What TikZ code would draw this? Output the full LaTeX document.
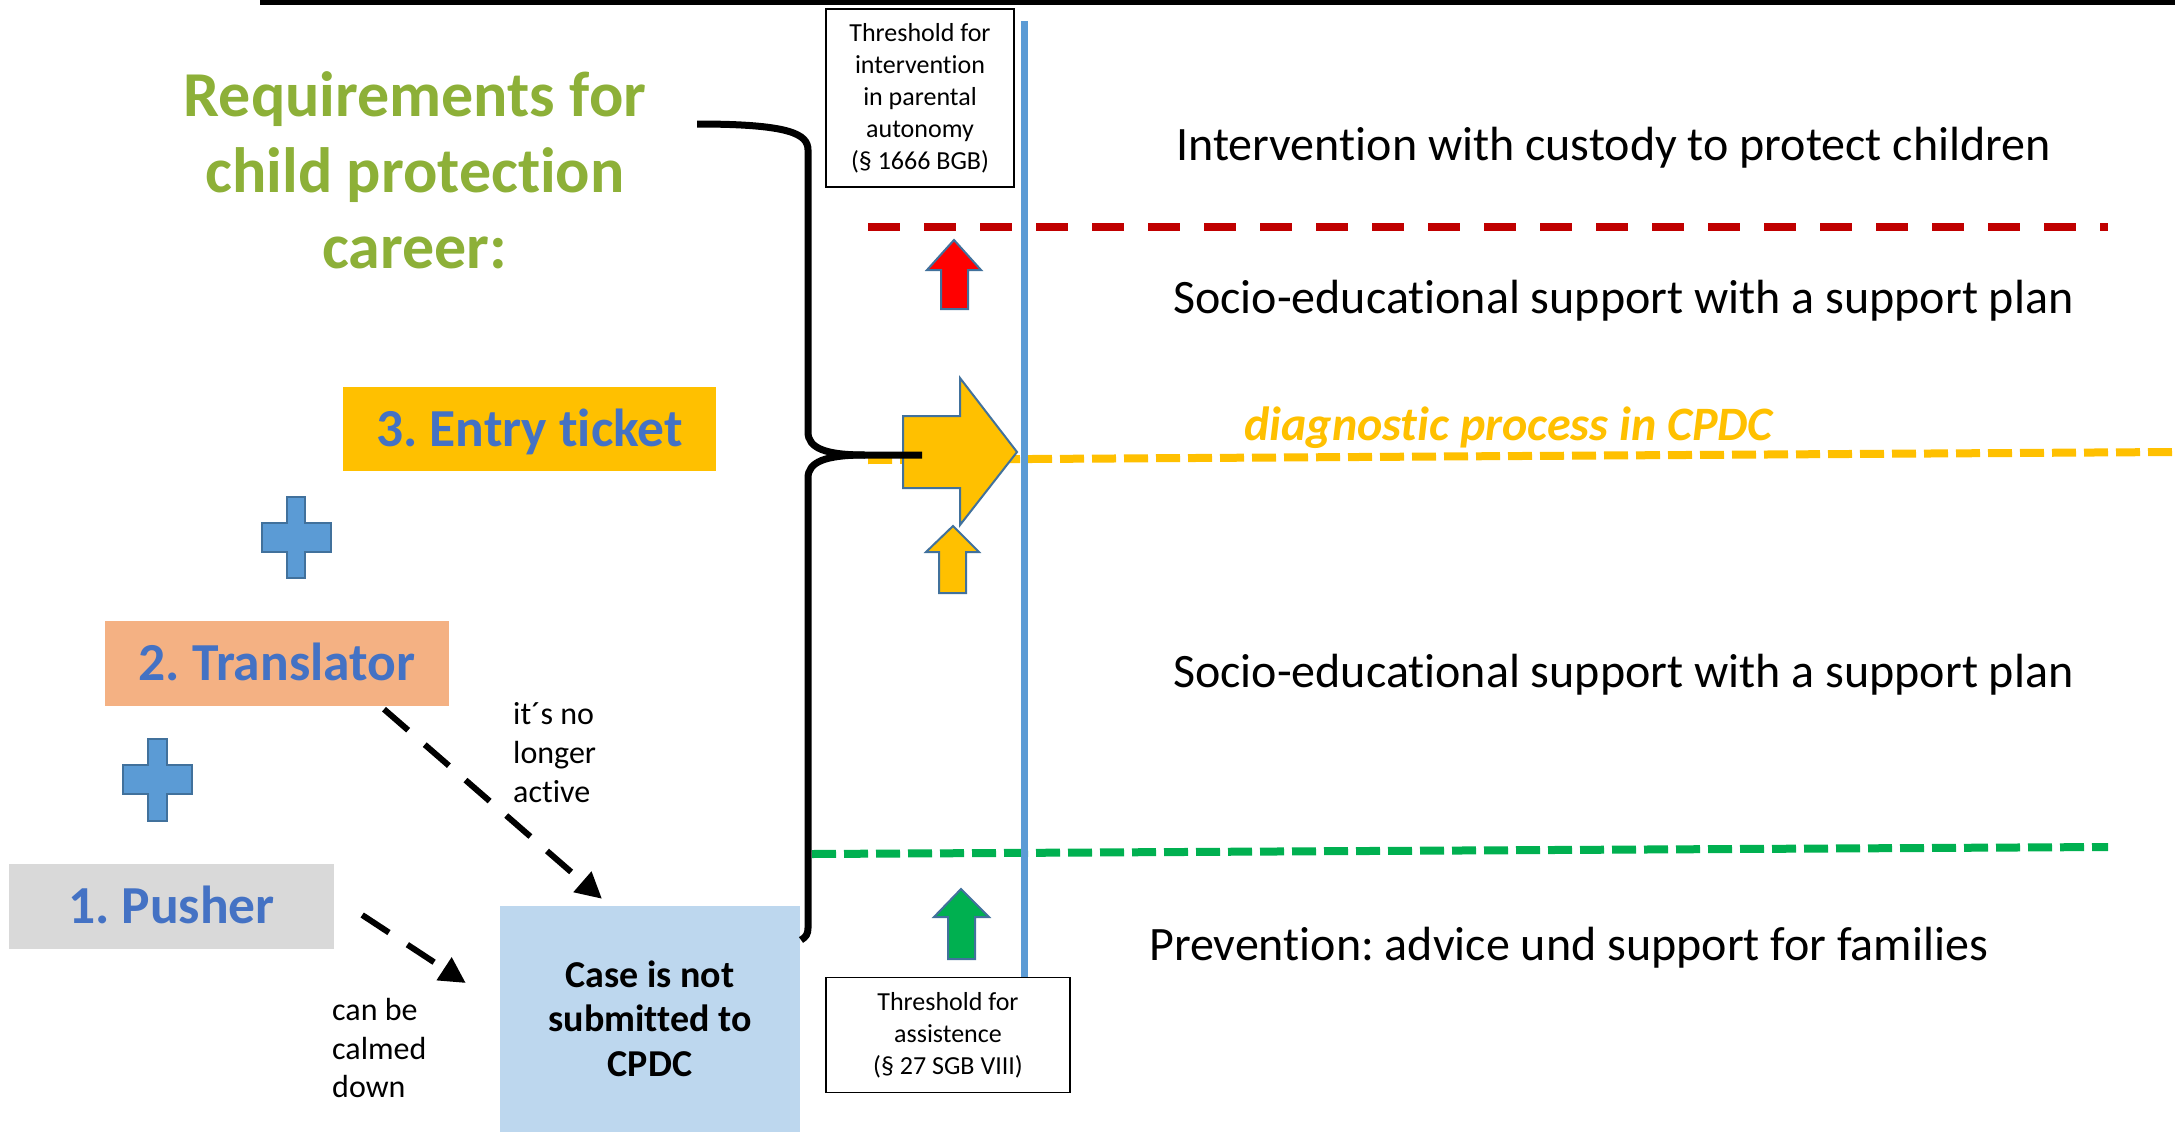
\documentclass[tikz,border=0pt]{standalone}
\usepackage{fontspec}
\setmainfont{Carlito}[Ligatures={NoCommon}]
\usetikzlibrary{arrows.meta}
\frenchspacing
\definecolor{titlegreen}{RGB}{141,176,56}
\definecolor{txtblue}{HTML}{4472C4}
\definecolor{dashred}{HTML}{C00000}
\definecolor{arrowred}{HTML}{FF0000}
\definecolor{gold}{HTML}{FFC000}
\definecolor{dgreen}{HTML}{00B050}
\definecolor{lblue}{HTML}{5B9BD5}
\definecolor{outl}{HTML}{41719C}
\definecolor{peach}{HTML}{F4B183}
\definecolor{lgray}{HTML}{D9D9D9}
\definecolor{pale}{HTML}{BDD7EE}
\begin{document}
\begin{tikzpicture}[x=1pt,y=-1pt,
  titletxt/.style={font=\bfseries\fontsize{64}{76}\selectfont, text=titlegreen, align=center, inner sep=0pt},
  stepbox/.style={font=\bfseries\fontsize{53.5}{62}\selectfont, text=txtblue, inner sep=0pt, text height=34pt, text depth=0pt},
  casebox/.style={fill=pale, minimum width=300pt, minimum height=226pt, align=center, font=\bfseries\fontsize{38}{44.5}\selectfont, inner sep=0pt},
  thresh/.style={draw=black, line width=1.5pt, align=center, font=\fontsize{26}{32}\selectfont, inner sep=0pt},
  leveltxt/.style={font=\fontsize{48}{56}\selectfont, anchor=base west, inner sep=0pt},
  notetxt/.style={font=\fontsize{32}{38.8}\selectfont, align=left, anchor=west, inner sep=0pt},
  dline/.style={line width=8pt},
  blockarrow/.style={draw=outl, line width=2pt, line join=miter},
  plussign/.style={fill=lblue, draw=outl, line width=2.5pt},
  dasharrow/.style={line width=6pt, dash pattern=on 32pt off 22pt, -{Triangle[length=26pt,width=26pt]}},
  bracestyle/.style={line width=7pt, line cap=butt}
]
\useasboundingbox (0,0) rectangle (2175,1140);
\fill[white] (0,0) rectangle (2175,1140);

% top rule
\draw[line width=5pt] (260,2.5) -- (2175,2.5);

% level lines
\draw[dline, dashred, dash pattern=on 32pt off 24pt] (868,227) -- (2108,227);
\draw[dline, gold, dash pattern=on 24pt off 8pt] (868,460) -- (2175,452);
\draw[dline, dgreen, dash pattern=on 24pt off 8pt] (812,854) -- (2108,847);

% threshold boxes and vertical line
\node[thresh, minimum width=188pt, minimum height=178pt] (th1) at (920,98)
  {Threshold for\\intervention\\in parental\\autonomy\\(§ 1666 BGB)};
\node[thresh, minimum width=244pt, minimum height=115pt] (th2) at (948,1035)
  {Threshold for\\assistence\\(§ 27 SGB VIII)};
\draw[lblue, line width=7pt] (1024,21) -- (th2.north -| 1024,0);

% title
\node[titletxt] (title) at (415,170) {Requirements for\\child protection\\career:};

% step boxes
\node[stepbox, fill=gold, minimum width=373pt, minimum height=84pt] (entry) at (529.5,429) {3. Entry ticket};
\node[stepbox, fill=peach, minimum width=344pt, minimum height=85pt] (trans) at (277,663.5) {2. Translator};
\node[stepbox, fill=lgray, minimum width=325pt, minimum height=85pt] (push) at (171.5,906.5) {1. Pusher};
\node[casebox] (case) at (650,1018.5) {Case is not\\submitted to\\CPDC};

% plus signs
\draw[plussign] (287,497) -- (305,497) -- (305,523) -- (331,523) -- (331,552) -- (305,552)
  -- (305,578) -- (287,578) -- (287,552) -- (262,552) -- (262,523) -- (287,523) -- cycle;
\draw[plussign] (148,739) -- (167,739) -- (167,765) -- (192,765) -- (192,794) -- (167,794)
  -- (167,821) -- (148,821) -- (148,794) -- (123,794) -- (123,765) -- (148,765) -- cycle;

% notes
\node[notetxt] (note1) at (513,752.5) {it´s no\\longer\\active};
\node[notetxt] (note2) at (332,1048) {can be\\calmed\\down};

% dashed arrows
\draw[dasharrow] ([xshift=107pt,yshift=-3pt]trans.south) -- ([xshift=-48pt,yshift=6.5pt]case.north);
\draw[dasharrow] ([xshift=28pt,yshift=-8.5pt]push.east) -- ([xshift=-34pt,yshift=35.5pt]case.west);

% block arrows
\draw[blockarrow, fill=arrowred] (941,309) -- (941,270) -- (927,270) -- (954,240) -- (981,270) -- (968,270) -- (968,309) -- cycle;
\draw[blockarrow, fill=gold] (939,593) -- (939,552) -- (926,552) -- (953,526) -- (979,552) -- (966,552) -- (966,593) -- cycle;
\draw[blockarrow, fill=dgreen] (948,959) -- (948,917) -- (934,917) -- (961,889) -- (989,917) -- (975,917) -- (975,959) -- cycle;
\draw[blockarrow, fill=gold] (903,416) -- (960,416) -- (960,378) -- (1017,452) -- (960,525) -- (960,488) -- (903,488) -- cycle;

% brace
\draw[bracestyle] (697,124) .. controls (790,124) and (808,134) .. (808,150) -- (808,432)
  .. controls (808,448) and (825,455) .. (865,455) -- (922,455);
\draw[bracestyle] (865,455) .. controls (825,455) and (808,462) .. (808,478) -- (808,928)
  .. controls (808,934) and (806,937) .. (801,940);

% level texts
\node[leveltxt] (lv1) at (1176,160) {Intervention with custody to protect children};
\node[leveltxt] (lv2) at (1173,313) {Socio-educational support with a support plan};
\node[leveltxt, font=\bfseries\itshape\fontsize{48}{56}\selectfont, text=gold] (diag) at (1244,440) {diagnostic process in CPDC};
\node[leveltxt] (lv3) at (1173,687) {Socio-educational support with a support plan};
\node[leveltxt] (lv4) at (1149,960) {Prevention: advice und support for families};
\end{tikzpicture}
\end{document}
